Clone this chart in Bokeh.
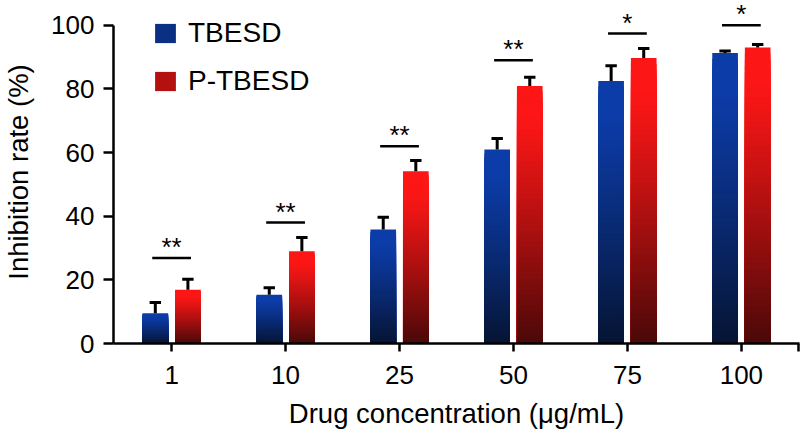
import numpy as np
from bokeh.plotting import figure
from bokeh.models import ColumnDataSource, FixedTicker, Legend, LegendItem, Range1d
from bokeh.core.properties import value
from bokeh.embed import file_html
from bokeh.resources import INLINE

# ---- data ----
concentrations = ["1", "10", "25", "50", "75", "100"]
tbesd = [9.5, 15.3, 35.8, 61.0, 82.5, 91.3]
tbesd_err = [3.4, 2.2, 3.9, 3.4, 4.8, 0.6]
ptbesd = [16.9, 29.0, 54.1, 80.9, 89.7, 93.0]
ptbesd_err = [3.3, 4.3, 3.4, 2.8, 3.0, 1.0]
sig_level = [26.9, 38.0, 62.0, 89.0, 97.4, 100.0]
sig_marks = ["**", "**", "**", "**", "*", "*"]
y_ticks = [0, 20, 40, 60, 80, 100]

FONT = "Liberation Sans"
BAR_W = 0.225
OFF = 0.143
N = 48

p = figure(width=802, height=435, output_backend="svg", toolbar_location=None,
           x_range=Range1d(-0.51, 5.51), y_range=Range1d(0, 107.8),
           min_border_left=105, min_border_right=3, min_border_top=0, min_border_bottom=92)
p.outline_line_color = None
p.xgrid.visible = False
p.ygrid.visible = False
p.background_fill_color = "white"


def mix(c1, c2, t):
    return "#%02x%02x%02x" % tuple(int(round(a + (b - a) * t)) for a, b in zip(c1, c2))


def gradient_source(centers, vals, top_rgb, bot_rgb):
    L, R, B, T, C = [], [], [], [], []
    for xc, v in zip(centers, vals):
        # draw from full height (top colour) to shortest (bottom colour)
        for k in range(N, 0, -1):
            frac_top = 1 - k / N  # 0 at top slice
            t = min(max((frac_top - 0.12) / 0.88, 0), 1) ** 1.1
            L.append(xc - BAR_W / 2)
            R.append(xc + BAR_W / 2)
            B.append(0)
            T.append(v * k / N)
            C.append(mix(top_rgb, bot_rgb, t))
    return ColumnDataSource(dict(left=L, right=R, bottom=B, top=T, color=C))


idx = np.arange(len(concentrations))
xb = idx - OFF
xr = idx + OFF

src_b = gradient_source(xb, tbesd, (12, 60, 168), (6, 20, 50))
src_r = gradient_source(xr, ptbesd, (252, 22, 22), (72, 8, 8))
rb = p.quad(left="left", right="right", bottom="bottom", top="top", fill_color="color",
            line_color=None, source=src_b)
rr = p.quad(left="left", right="right", bottom="bottom", top="top", fill_color="color",
            line_color=None, source=src_r)

# error bars (upper only)
CAP = 0.05
for xs, vals, errs in ((xb, tbesd, tbesd_err), (xr, ptbesd, ptbesd_err)):
    tops = [v + e for v, e in zip(vals, errs)]
    p.segment(x0=xs, y0=vals, x1=xs, y1=tops, line_color="black", line_width=3)
    p.segment(x0=xs - CAP, y0=tops, x1=xs + CAP, y1=tops, line_color="black", line_width=3)

# significance
p.segment(x0=idx - 0.17, y0=sig_level, x1=idx + 0.17, y1=sig_level, line_color="black", line_width=2.5)
p.text(x=idx, y=sig_level, text=sig_marks, text_font=value(FONT), text_font_size="26px",
       text_align="center", text_baseline="alphabetic", text_color="black", y_offset=-11)

# axes
for ax in (p.xaxis, p.yaxis):
    ax.axis_line_width = 2.5
    ax.major_tick_line_width = 2.5
    ax.major_tick_in = 0
    ax.minor_tick_line_color = None
    ax.major_label_text_font = FONT
    ax.major_label_text_font_size = "26px"
    ax.major_label_text_color = "black"
    ax.axis_label_text_font = FONT
    ax.axis_label_text_font_size = "27.5px"
    ax.axis_label_text_font_style = "normal"
    ax.axis_label_text_color = "black"

p.xaxis.ticker = FixedTicker(ticks=list(idx) + [5.5])
overrides = {int(i): c for i, c in zip(idx, concentrations)}
overrides[5.5] = ""
p.xaxis.major_label_overrides = overrides
p.xaxis.major_tick_out = 8
p.xaxis.major_label_standoff = 14
p.xaxis.axis_label = "Drug concentration (\u03bcg/mL)"
p.xaxis.axis_label_standoff = 11

p.yaxis.ticker = FixedTicker(ticks=y_ticks)
p.yaxis.bounds = (0, 100)
p.yaxis.major_tick_out = 10
p.yaxis.major_label_standoff = 9
p.yaxis.axis_label = "Inhibition rate (%)"
p.yaxis.axis_label_standoff = 14

legend = Legend(items=[LegendItem(label="TBESD", renderers=[rb], index=20),
                       LegendItem(label="P-TBESD", renderers=[rr], index=24)],
                location=(39, 246), orientation="vertical", border_line_color=None,
                background_fill_alpha=0, padding=0, margin=0, spacing=16,
                glyph_width=26, glyph_height=24, label_standoff=10, label_height=30,
                label_text_font=FONT, label_text_font_size="28px", label_text_color="black")
p.add_layout(legend)

open("out.html", "w").write(file_html(p, INLINE))
